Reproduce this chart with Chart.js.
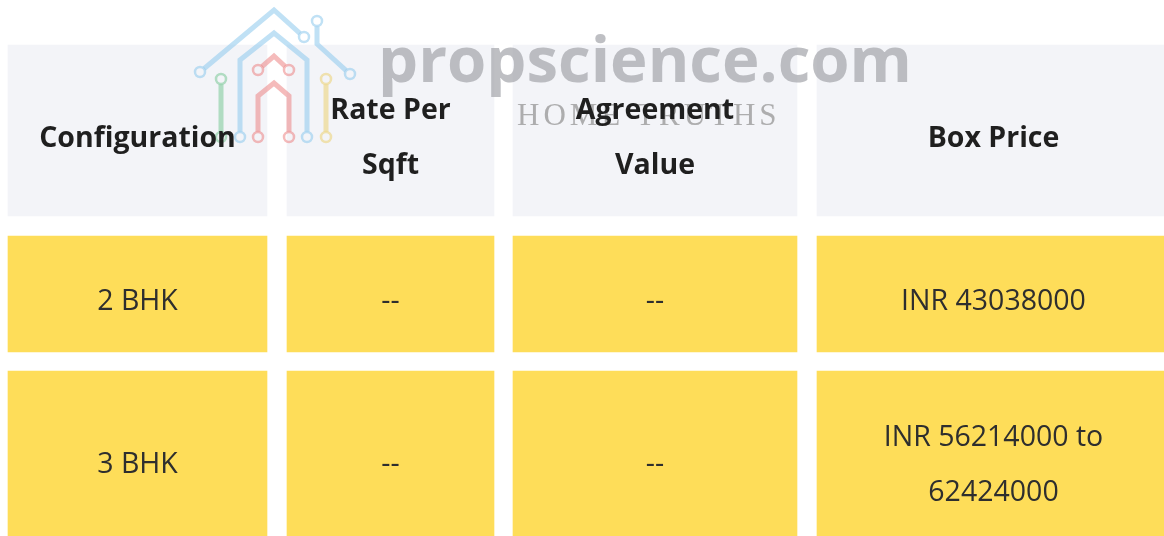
<!DOCTYPE html>
<html>
<head>
<meta charset="utf-8">
<script src="https://cdn.jsdelivr.net/npm/chart.js@4.4.1/dist/chart.umd.min.js"></script>
<style>
  html, body { margin: 0; padding: 0; background: #fff; }
  #wrap { width: 1164px; height: 536px; position: relative; }
</style>
</head>
<body>
<div id="wrap"><canvas id="table"></canvas></div>
<script>
// table content
const columns = ["Configuration", "Rate Per Sqft", "Agreement Value", "Box Price"]
const configurations = ["2 BHK", "3 BHK"]
const ratePerSqft = ["--", "--"]
const agreementValue = ["--", "--"]
const boxPrice = ["INR 43038000", "INR 56214000 to 62424000"]

// layout (pixel units on the hidden linear scales)
const colEdges = [[8, 267], [287, 494], [513, 797], [817, 1170]]
const rowBands = [[45, 216], [236, 352], [371, 543]]
const rowColors = ["#f3f4f8", "#fedd59", "#fedd59"]

const rows = [columns].concat(configurations.map((c, i) => [c, ratePerSqft[i], agreementValue[i], boxPrice[i]]))

const FONT = "'Open Sans', sans-serif"

function wrapText(ctx, text, maxWidth) {
  const words = text.split(" ")
  const lines = []
  let line = ""
  for (const w of words) {
    const test = line ? line + " " + w : w
    if (line && ctx.measureText(test).width > maxWidth) {
      lines.push(line)
      line = w
    } else {
      line = test
    }
  }
  if (line) lines.push(line)
  return lines
}

function drawLogo(ctx) {
  ctx.save()
  ctx.lineJoin = "miter"
  ctx.lineCap = "butt"
  const paths = [
    { color: "rgba(140,200,236,0.55)", pts: [[200, 72], [274, 10], [304, 37]] },
    { color: "rgba(140,200,236,0.55)", pts: [[317, 21], [317, 44], [350, 74]] },
    { color: "rgba(140,200,236,0.55)", pts: [[240, 137], [240, 60], [274, 33], [307, 60], [307, 137]] },
    { color: "rgba(236,120,120,0.5)", pts: [[258, 70], [274, 56], [289, 70]] },
    { color: "rgba(236,120,120,0.5)", pts: [[258, 137], [258, 96], [274, 83], [289, 96], [289, 137]] },
    { color: "rgba(110,195,140,0.5)", pts: [[221, 79], [221, 137]] },
    { color: "rgba(236,205,100,0.5)", pts: [[326, 79], [326, 137]] }
  ]
  for (const p of paths) {
    ctx.strokeStyle = p.color
    ctx.lineWidth = 5
    ctx.beginPath()
    // trim segment ends so circles stay hollow
    const pts = p.pts
    const trim = (a, b) => {
      const dx = b[0] - a[0], dy = b[1] - a[1]
      const d = Math.hypot(dx, dy)
      return [a[0] + dx / d * 5.5, a[1] + dy / d * 5.5]
    }
    const start = trim(pts[0], pts[1])
    const end = trim(pts[pts.length - 1], pts[pts.length - 2])
    ctx.moveTo(start[0], start[1])
    for (let i = 1; i < pts.length - 1; i++) ctx.lineTo(pts[i][0], pts[i][1])
    ctx.lineTo(end[0], end[1])
    ctx.stroke()
    ctx.lineWidth = 2.5
    for (const c of [pts[0], pts[pts.length - 1]]) {
      ctx.beginPath()
      ctx.arc(c[0], c[1], 5, 0, Math.PI * 2)
      ctx.stroke()
    }
  }
  ctx.restore()
}

function drawWatermark(ctx) {
  ctx.save()
  ctx.textBaseline = "alphabetic"
  ctx.textAlign = "left"
  let size = 64
  ctx.font = `700 ${size}px ${FONT}`
  size = size * 534 / ctx.measureText("propscience.com").width
  ctx.font = `700 ${size}px ${FONT}`
  ctx.fillStyle = "rgba(168,170,175,0.75)"
  ctx.fillText("propscience.com", 378, 82)

  ctx.font = "400 31px 'Liberation Serif', serif"
  ctx.letterSpacing = "4px"
  ctx.fillStyle = "rgba(150,150,150,0.75)"
  ctx.fillText("HOME TRUTHS", 517, 125)
  ctx.restore()
  drawLogo(ctx)
}

const cellText = {
  id: "cellText",
  afterDatasetsDraw(chart) {
    const ctx = chart.ctx
    drawWatermark(ctx)
    ctx.save()
    ctx.textAlign = "center"
    ctx.textBaseline = "middle"
    chart.data.datasets.forEach((ds, r) => {
      const meta = chart.getDatasetMeta(r)
      const header = r === 0
      ctx.font = header ? `700 28.5px ${FONT}` : `400 28.5px ${FONT}`
      ctx.fillStyle = header ? "#1f1f1f" : "#2e2e2e"
      meta.data.forEach((bar, c) => {
        const left = Math.min(bar.x, bar.base)
        const right = Math.max(bar.x, bar.base)
        const cx = (left + right) / 2
        const lines = wrapText(ctx, rows[r][c], right - left - 46)
        const lh = 55
        const top = bar.y + 8 - (lines.length - 1) * lh / 2
        lines.forEach((ln, i) => ctx.fillText(ln, cx, top + i * lh))
      })
    })
    ctx.restore()
  }
}

new Chart(document.getElementById("table"), {
  type: "bar",
  data: {
    datasets: rows.map((row, r) => ({
      label: r === 0 ? "header" : configurations[r - 1],
      data: row.map((_, c) => ({ x: colEdges[c], y: (rowBands[r][0] + rowBands[r][1]) / 2 })),
      barThickness: rowBands[r][1] - rowBands[r][0],
      backgroundColor: rowColors[r],
      borderWidth: 0,
      grouped: false
    }))
  },
  options: {
    indexAxis: "y",
    responsive: true,
    maintainAspectRatio: false,
    animation: false,
    layout: { padding: 0 },
    plugins: { legend: { display: false }, tooltip: { enabled: false } },
    scales: {
      x: { type: "linear", min: 0, max: 1164, offset: false, display: false },
      y: { type: "linear", min: 0, max: 536, reverse: true, offset: false, display: false }
    }
  },
  plugins: [cellText]
})
</script>
</body>
</html>
